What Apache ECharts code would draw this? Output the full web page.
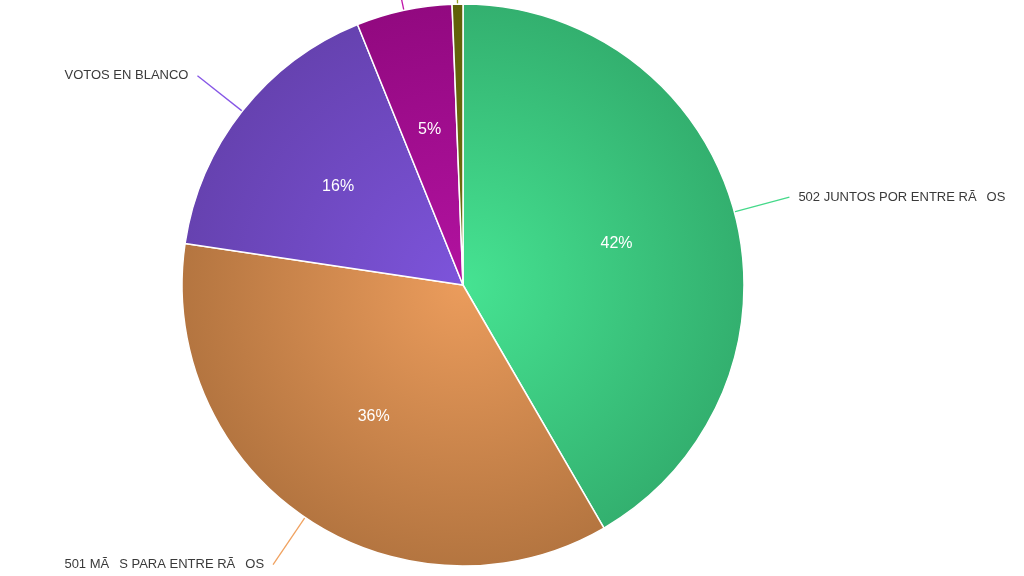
<!DOCTYPE html>
<html>
<head>
<meta charset="utf-8">
<script src="https://cdn.jsdelivr.net/npm/echarts@6/dist/echarts.min.js"></script>
<style>html,body{margin:0;padding:0;background:#fff}#c{width:1024px;height:576px}</style>
</head>
<body>
<div id="c"></div>
<script>
var categories = ['502 JUNTOS POR ENTRE R\u00C3\u008DOS', '501 M\u00C3\u0081S PARA ENTRE R\u00C3\u008DOS', 'VOTOS EN BLANCO', 'OTROS', 'NULOS'];
var values = [41.6, 35.7, 16.5, 5.5, 0.62];
var innerColors = ['#46e392', '#eb9c5c', '#7d54db', '#b212a0', '#70700f'];
var outerColors = ['#33b06f', '#b47540', '#6642b0', '#920980', '#606008'];
var lineColors = ['#45d98a', '#f0a260', '#8656e6', '#c016a8', '#9aa020'];

var cx = 463, cy = 285, R = 281;
function grad(i) {
  return {type: 'radial', x: cx, y: cy, r: R, global: true,
    colorStops: [{offset: 0, color: innerColors[i]}, {offset: 1, color: outerColors[i]}]};
}
var dataMain = categories.map(function (n, i) {
  return {name: n, value: values[i], itemStyle: {color: grad(i)},
    labelLine: {lineStyle: {color: lineColors[i]}}};
});
var dataPct = categories.map(function (n, i) {
  return {name: n, value: values[i]};
});
var chart = echarts.init(document.getElementById('c'), null, {renderer: 'canvas'});
chart.setOption({
  animation: false,
  series: [
    {
      type: 'pie', center: [cx, cy], radius: [0, R], startAngle: 90, clockwise: true,
      z: 1, avoidLabelOverlap: false,
      itemStyle: {borderColor: '#fff', borderWidth: 1.5},
      label: {show: true, position: 'outside', color: '#3a3a3a', fontSize: 13,
        fontFamily: 'Liberation Sans, Arial, sans-serif', distanceToLabelLine: 9},
      labelLine: {show: true, length: 57, length2: 0, smooth: 0.2, lineStyle: {width: 1.3}},
      data: dataMain
    },
    {
      type: 'pie', center: [cx, cy], radius: [31, R], startAngle: 90, clockwise: true,
      z: 3, silent: true, avoidLabelOverlap: false, percentPrecision: 0,
      itemStyle: {color: 'rgba(0,0,0,0)', borderWidth: 0},
      label: {show: true, position: 'inside', color: '#fff', fontSize: 16,
        fontFamily: 'Liberation Sans, Arial, sans-serif',
        formatter: function (p) { return p.value < 2 ? '' : p.percent + '%'; }},
      labelLine: {show: false},
      data: dataPct
    }
  ]
});
</script>
</body>
</html>
